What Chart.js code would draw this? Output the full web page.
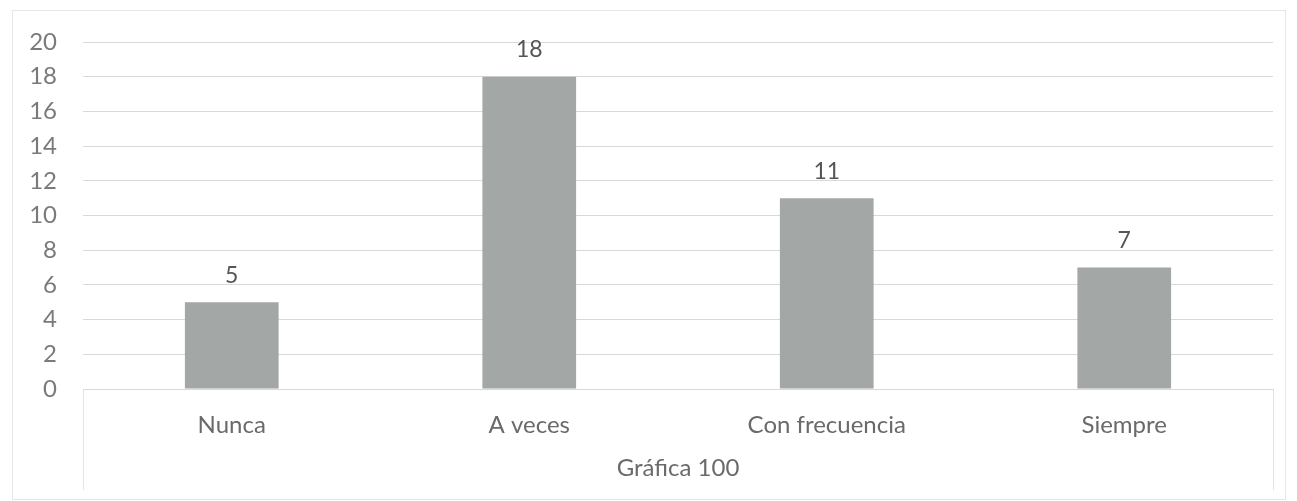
<!DOCTYPE html>
<html>
<head>
<meta charset="utf-8">
<script src="https://cdn.jsdelivr.net/npm/chart.js@4/dist/chart.umd.min.js"></script>
<style>
html,body{margin:0;padding:0;background:#fff;}
#wrap{width:1297px;height:501px;position:relative;}
</style>
</head>
<body>
<div id="wrap"><canvas id="c" width="1297" height="501"></canvas></div>
<script>
const categories = ["Nunca", "A veces", "Con frecuencia", "Siempre"];
const values = [5, 18, 11, 7];
const yTicks = [0, 2, 4, 6, 8, 10, 12, 14, 16, 18, 20];
const axisTitle = "Gráfica 100";

const FONT = "Lato, 'Open Sans', sans-serif";
const TXT = "#6a6a6a";

const decor = {
  id: "decor",
  beforeDraw(chart) {
    const ctx = chart.ctx;
    const a = chart.chartArea;
    ctx.save();
    ctx.fillStyle = "#fff";
    ctx.fillRect(0, 0, chart.width, chart.height);
    ctx.strokeStyle = "#e6e6e6";
    ctx.lineWidth = 1;
    ctx.strokeRect(12.5, 10.5, chart.width - 24, chart.height - 12);
    ctx.strokeStyle = "#e4e4e4";
    ctx.beginPath();
    ctx.moveTo(Math.round(a.left) + 0.5, a.bottom);
    ctx.lineTo(Math.round(a.left) + 0.5, 490);
    ctx.moveTo(Math.round(a.right) + 0.5, a.bottom);
    ctx.lineTo(Math.round(a.right) + 0.5, 490);
    ctx.stroke();
    ctx.restore();
  },
  afterDatasetsDraw(chart) {
    const ctx = chart.ctx;
    const meta = chart.getDatasetMeta(0);
    ctx.save();
    ctx.fillStyle = "#555555";
    ctx.font = "23px " + FONT;
    ctx.textAlign = "center";
    ctx.textBaseline = "middle";
    meta.data.forEach((bar, i) => {
      ctx.fillText(String(values[i]), bar.x, bar.y - 27);
    });
    ctx.restore();
  }
};

new Chart(document.getElementById("c"), {
  type: "bar",
  data: {
    labels: categories,
    datasets: [{
      data: values,
      backgroundColor: "#a3a7a6",
      borderWidth: 0,
      categoryPercentage: 1,
      barPercentage: 0.315
    }]
  },
  options: {
    responsive: false,
    animation: false,
    events: [],
    layout: { padding: { left: 0, right: 24, top: 42, bottom: 0 } },
    plugins: { legend: { display: false }, tooltip: { enabled: false } },
    scales: {
      x: {
        grid: { display: false, drawTicks: false },
        border: { display: true, color: "#d9d9d9", width: 1 },
        ticks: { color: TXT, font: { family: FONT, size: 24 }, padding: 22, maxRotation: 0 },
        title: { display: true, text: axisTitle, color: TXT, font: { family: FONT, size: 24 }, padding: { top: 0, bottom: 18 } },
        afterFit(s) { s.height = 112; }
      },
      y: {
        min: 0, max: 20,
        afterBuildTicks(s) { s.ticks = yTicks.map(v => ({ value: v })); },
        grid: { color: "#d9d9d9", drawTicks: false },
        border: { display: false },
        ticks: { color: "#7a7a7a", font: { family: FONT, size: 24 }, padding: 26 },
        afterFit(s) { s.width = 83; }
      }
    }
  },
  plugins: [decor]
});
</script>
</body>
</html>
